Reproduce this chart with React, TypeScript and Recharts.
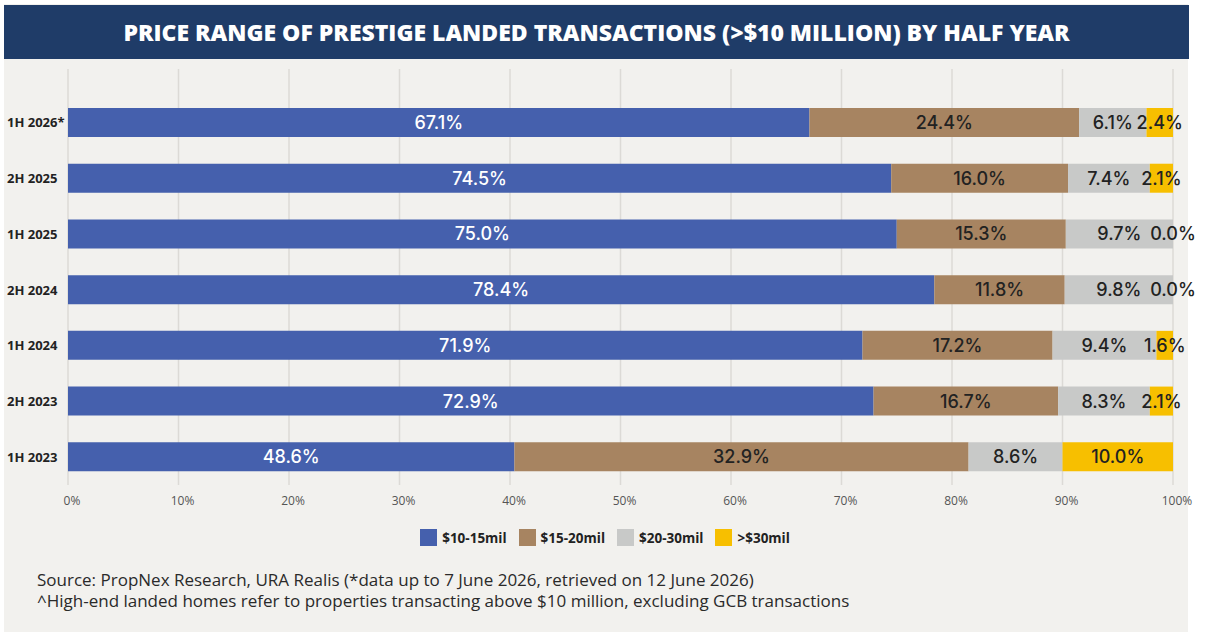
import React from "react";
import { BarChart, Bar, XAxis, YAxis, CartesianGrid, Legend, LabelList } from "recharts";

const categories = ["1H 2026*", "2H 2025", "1H 2025", "2H 2024", "1H 2024", "2H 2023", "1H 2023"];
const s10to15 = [67.1, 74.5, 75.0, 78.4, 71.9, 72.9, 40.4];
const s15to20 = [24.4, 16.0, 15.3, 11.8, 17.2, 16.7, 41.1];
const s20to30 = [6.1, 7.4, 9.7, 9.8, 9.4, 8.3, 8.5];
const s30plus = [2.4, 2.1, 0.0, 0.0, 1.6, 2.1, 10.0];
const lbl10to15 = ["67.1%", "74.5%", "75.0%", "78.4%", "71.9%", "72.9%", "48.6%"];
const lbl15to20 = ["24.4%", "16.0%", "15.3%", "11.8%", "17.2%", "16.7%", "32.9%"];
const lbl20to30 = ["6.1%", "7.4%", "9.7%", "9.8%", "9.4%", "8.3%", "8.6%"];
const lbl30plus = ["2.4%", "2.1%", "0.0%", "0.0%", "1.6%", "2.1%", "10.0%"];
const seriesNames = ["$10-15mil", "$15-20mil", "$20-30mil", ">$30mil"];
const xTicks = [0, 10, 20, 30, 40, 50, 60, 70, 80, 90, 100];

const colors = ["#4560ad", "#a78461", "#c8c9c8", "#f7bf00"];
const FONT = "'Open Sans', 'Noto Sans', sans-serif";
const LFONT = "Inter, 'Open Sans', sans-serif";

const data = categories.map((c, i) => ({
  cat: c,
  a: s10to15[i],
  b: s15to20[i],
  c: s20to30[i],
  d: s30plus[i],
}));

const labelText = (key: string, cx: number, cy: number, text: string, fill: string) => (
  <text
    key={key}
    x={cx}
    y={cy}
    dy={6.5}
    textAnchor="middle"
    fill={fill}
    fontSize={18}
    fontWeight={500}
    fontFamily={LFONT}
  >
    {text}
  </text>
);

const makeLabel = (labels: string[], fill: string, zeroNext?: { values: number[]; labels: string[] }) => (props: any) => {
  const { x, y, width, height, value } = props;
  const i = categories.indexOf(value);
  if (i < 0) return null;
  const cx = Number(x) + Number(width) / 2;
  const cy = Number(y) + Number(height) / 2;
  const out = [labelText("m", cx, cy, labels[i], fill)];
  if (zeroNext && zeroNext.values[i] === 0) {
    out.push(labelText("z", Number(x) + Number(width), cy, zeroNext.labels[i], "#222222"));
  }
  return <g>{out}</g>;
};

const YTick = (props: any) => {
  const { y, payload } = props;
  return (
    <text x={7} y={y} dy={4.5} textAnchor="start" fill="#222222" fontSize={13} fontWeight={700} fontFamily={FONT}>
      {payload.value}
    </text>
  );
};

const LegendContent = (props: any) => {
  const { payload } = props;
  return (
    <div style={{ display: "flex", justifyContent: "center", alignItems: "center", width: 1210, height: 23 }}>
      {(payload || []).map((p: any, i: number) => (
        <div key={i} style={{ display: "flex", alignItems: "center", marginRight: i < payload.length - 1 ? 12 : 0 }}>
          <span style={{ display: "inline-block", width: 17, height: 17, background: p.color, marginRight: 5 }} />
          <span style={{ color: "#222222", fontSize: 13.5, fontWeight: 700, fontFamily: FONT }}>{p.value}</span>
        </div>
      ))}
    </div>
  );
};

export default function App() {
  return (
    <div style={{ position: "fixed", left: 0, top: 0, width: 1210, height: 637, background: "#ffffff", fontFamily: FONT }}>
      <div style={{ position: "absolute", left: 4, top: 4, width: 1184, height: 628, background: "#f2f1ee" }} />
      <div
        style={{
          position: "absolute",
          left: 4,
          top: 5,
          width: 1185,
          height: 54,
          background: "#1f3c68",
          color: "#ffffff",
          display: "flex",
          alignItems: "center",
          justifyContent: "center",
          fontSize: 23,
          fontWeight: 800,
        }}
      >
        PRICE RANGE OF PRESTIGE LANDED TRANSACTIONS (&gt;$10 MILLION) BY HALF YEAR
      </div>
      <div style={{ position: "absolute", left: 0, top: 0 }}>
        <BarChart
          width={1210}
          height={560}
          data={data}
          layout="vertical"
          margin={{ top: 69, right: 37, bottom: 22, left: 0 }}
          barSize={29}
        >
          <CartesianGrid horizontal={false} stroke="#dcdad6" strokeWidth={1.5} />
          <XAxis
            type="number"
            domain={[0, 100]}
            ticks={xTicks}
            allowDataOverflow
            tickFormatter={(v: number) => `${v}%`}
            axisLine={false}
            tickLine={false}
            tickSize={0}
            tickMargin={11}
            height={30}
            tick={{ fill: "#555555", fontSize: 12, fontFamily: FONT, dx: 4 }}
          />
          <YAxis
            type="category"
            dataKey="cat"
            width={68}
            axisLine={false}
            tickLine={false}
            tickSize={0}
            tickMargin={5}
            padding={{ top: 26, bottom: 0 }}
            tick={<YTick />}
          />
          <Legend
            verticalAlign="bottom"
            align="center"
            wrapperStyle={{ position: "absolute", top: 526, left: 0, width: 1210, bottom: "auto" }}
            content={<LegendContent />}
          />
          <Bar dataKey="a" name={seriesNames[0]} stackId="s" fill={colors[0]} isAnimationActive={false}>
            <LabelList dataKey="cat" content={makeLabel(lbl10to15, "#ffffff")} />
          </Bar>
          <Bar dataKey="b" name={seriesNames[1]} stackId="s" fill={colors[1]} isAnimationActive={false}>
            <LabelList dataKey="cat" content={makeLabel(lbl15to20, "#222222")} />
          </Bar>
          <Bar dataKey="c" name={seriesNames[2]} stackId="s" fill={colors[2]} isAnimationActive={false}>
            <LabelList
              dataKey="cat"
              content={makeLabel(lbl20to30, "#222222", { values: s30plus, labels: lbl30plus })}
            />
          </Bar>
          <Bar dataKey="d" name={seriesNames[3]} stackId="s" fill={colors[3]} isAnimationActive={false}>
            <LabelList dataKey="cat" content={makeLabel(lbl30plus, "#222222")} />
          </Bar>
        </BarChart>
      </div>
      <div
        style={{
          position: "absolute",
          left: 37,
          top: 569,
          fontSize: 17,
          lineHeight: "21px",
          color: "#2a2a2a",
        }}
      >
        <div>Source: PropNex Research, URA Realis (*data up to 7 June 2026, retrieved on 12 June 2026)</div>
        <div>^High-end landed homes refer to properties transacting above $10 million, excluding GCB transactions</div>
      </div>
    </div>
  );
}
